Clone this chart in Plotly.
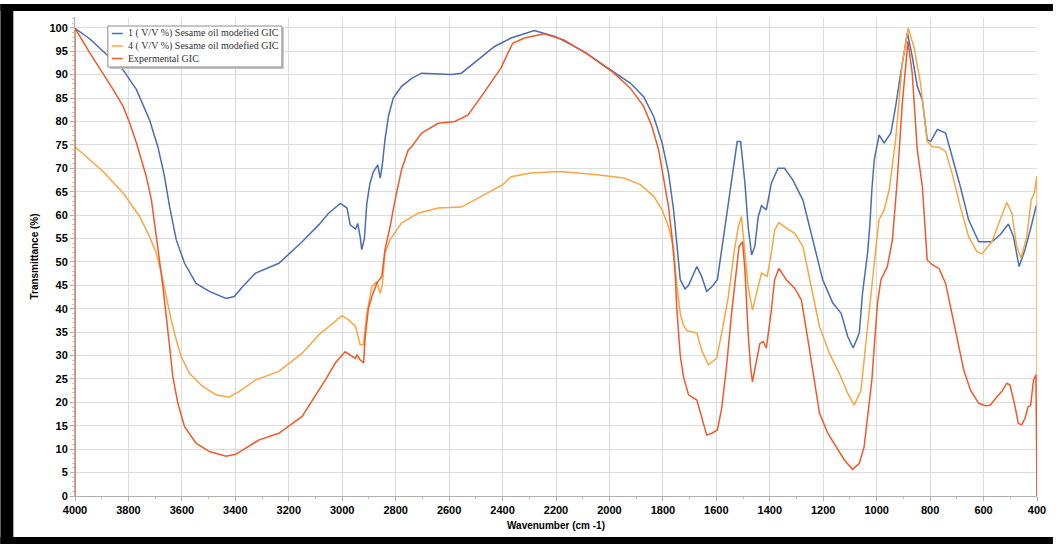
import plotly.graph_objects as go

# ---------------- data ----------------
names = ["1 ( V/V %) Sesame oil modefied GIC",
         "4 ( V/V %) Sesame oil modefied GIC",
         "Expermental GIC"]

wn_blue = [4000, 3944, 3895, 3820, 3770, 3721, 3690, 3665, 3646, 3621, 3590, 3547, 3497, 3435, 3404,
           3373, 3324, 3237, 3150, 3088, 3051, 3007, 2982, 2970, 2950, 2942, 2933, 2927, 2917, 2908,
           2896, 2883, 2867, 2858, 2850, 2840, 2827, 2809, 2778, 2740, 2703, 2650, 2592, 2554, 2492,
           2430, 2368, 2281, 2201, 2095, 1996, 1922, 1872, 1834, 1803, 1779, 1760, 1748, 1735, 1717,
           1704, 1673, 1655, 1636, 1617, 1596, 1574, 1552, 1534, 1522, 1509, 1493, 1481, 1468, 1456,
           1443, 1431, 1413, 1394, 1369, 1345, 1314, 1276, 1239, 1202, 1164, 1133, 1108, 1088, 1065,
           1053, 1034, 1025, 1018, 1009, 991, 972, 947, 929, 910, 885, 867, 848, 829, 811,
           798, 773, 742, 718, 687, 656, 618, 569, 538, 507, 488, 467, 445, 422, 404, 400]
t_blue = [99.9, 97.6, 95.0, 91.0, 86.8, 80.3, 74.6, 68.2, 61.8, 54.7, 49.7, 45.4, 43.7, 42.2, 42.6,
          44.7, 47.6, 49.7, 54.3, 57.9, 60.4, 62.5, 61.5, 57.9, 57.0, 58.2, 55.4, 52.6, 55.0, 62.5,
          66.8, 69.3, 70.7, 67.9, 70.7, 76.1, 81.1, 85.0, 87.5, 89.2, 90.3, 90.1, 90.0, 90.3, 93.2,
          96.0, 97.8, 99.4, 98.1, 94.9, 91.0, 88.2, 85.3, 81.0, 75.4, 69.0, 61.1, 53.3, 46.2, 44.2,
          45.0, 49.0, 46.9, 43.7, 44.7, 46.2, 54.7, 63.2, 70.4, 75.7, 75.7, 66.8, 57.5, 51.5, 53.3,
          59.7, 62.0, 61.1, 66.8, 70.0, 70.0, 67.5, 63.2, 54.7, 46.2, 41.2, 39.0, 34.0, 31.6, 34.8,
          43.3, 51.9, 58.3, 65.4, 71.8, 77.1, 75.4, 77.5, 83.2, 90.3, 98.9, 93.9, 87.5, 84.6, 76.1,
          75.7, 78.3, 77.5, 72.5, 66.1, 59.0, 54.3, 54.3, 55.8, 58.1, 55.4, 49.0, 52.6, 57.5, 61.8, 62.0]

wn_orange = [4000, 3895, 3820, 3758, 3721, 3696, 3677, 3659, 3640, 3621, 3603, 3572, 3522, 3472, 3423,
             3386, 3324, 3237, 3150, 3088, 3051, 3001, 2976, 2950, 2933, 2921, 2908, 2889, 2871, 2858,
             2850, 2840, 2821, 2778, 2716, 2641, 2554, 2467, 2399, 2368, 2294, 2182, 2046, 1946, 1884,
             1834, 1803, 1779, 1760, 1748, 1735, 1723, 1710, 1673, 1655, 1630, 1599, 1580, 1555, 1534,
             1518, 1506, 1496, 1481, 1465, 1450, 1431, 1410, 1394, 1382, 1366, 1338, 1307, 1276, 1245,
             1214, 1177, 1140, 1108, 1084, 1059, 1040, 1025, 1009, 991, 972, 953, 929, 904, 882,
             861, 836, 811, 792, 767, 742, 718, 687, 656, 625, 606, 569, 538, 513, 494,
             476, 460, 438, 422, 410, 401, 400, 400]
t_orange = [74.6, 69.3, 64.7, 59.7, 55.4, 51.9, 47.6, 42.6, 37.6, 33.3, 29.8, 26.2, 23.4, 21.6, 21.1,
            22.3, 24.8, 26.6, 30.5, 34.4, 36.2, 38.5, 37.6, 36.2, 32.3, 32.3, 39.0, 44.7, 45.8, 43.3,
            45.1, 51.9, 54.7, 58.3, 60.4, 61.5, 61.7, 64.3, 66.5, 68.2, 69.0, 69.3, 68.6, 67.9, 66.5,
            64.0, 61.1, 57.5, 53.0, 45.0, 39.0, 36.5, 35.3, 34.8, 31.2, 28.0, 29.4, 34.8, 42.6, 51.9,
            57.5, 59.7, 54.0, 44.7, 39.7, 43.3, 47.6, 46.9, 51.9, 56.8, 58.4, 57.2, 56.1, 53.3, 44.7,
            36.2, 30.5, 26.2, 21.9, 19.4, 22.5, 33.3, 41.9, 49.7, 59.0, 61.1, 65.4, 76.1, 92.5, 99.9,
            96.0, 88.2, 75.7, 74.6, 74.5, 73.6, 69.0, 61.8, 55.4, 52.2, 51.7, 54.3, 59.0, 62.7, 60.4,
            53.3, 50.8, 55.4, 63.2, 64.7, 68.2, 68.2, 0.0]

wn_red = [4000, 4000, 3944, 3895, 3857, 3820, 3795, 3770, 3752, 3733, 3714, 3696, 3684, 3671, 3659,
          3646, 3634, 3615, 3590, 3547, 3497, 3435, 3398, 3361, 3311, 3237, 3150, 3063, 3026, 2989,
          2970, 2951, 2945, 2933, 2920, 2914, 2902, 2889, 2871, 2852, 2840, 2821, 2803, 2778, 2753,
          2740, 2703, 2641, 2579, 2529, 2480, 2430, 2405, 2380, 2362, 2318, 2244, 2170, 2070, 1983,
          1922, 1872, 1841, 1816, 1797, 1779, 1766, 1754, 1748, 1741, 1735, 1723, 1704, 1673, 1655,
          1636, 1617, 1596, 1580, 1562, 1543, 1527, 1515, 1502, 1493, 1481, 1472, 1465, 1450, 1437,
          1425, 1413, 1394, 1382, 1366, 1338, 1307, 1282, 1257, 1233, 1214, 1183, 1152, 1121, 1090,
          1065, 1047, 1034, 1018, 1009, 997, 984, 960, 941, 923, 904, 883, 867, 848, 829,
          811, 792, 767, 742, 718, 693, 674, 649, 618, 594, 575, 550, 532, 513, 501,
          482, 470, 457, 445, 433, 424, 413, 404, 400]
t_red = [0.0, 99.9, 94.6, 90.3, 86.8, 83.2, 79.6, 75.4, 71.8, 68.2, 63.2, 56.1, 50.4, 44.7, 39.0,
         31.9, 25.5, 19.8, 14.8, 11.3, 9.5, 8.5, 8.9, 10.2, 12.0, 13.4, 17.0, 24.8, 28.4, 30.8,
         30.1, 29.4, 30.1, 29.1, 28.4, 34.0, 40.1, 42.6, 45.4, 46.9, 52.6, 57.5, 63.0, 69.7, 73.9,
         74.6, 77.5, 79.6, 80.0, 81.4, 85.3, 89.6, 91.5, 94.6, 96.7, 97.8, 98.7, 97.4, 93.9, 90.3,
         87.1, 83.2, 78.9, 73.9, 67.5, 61.8, 55.4, 47.6, 40.0, 34.0, 30.0, 25.5, 21.6, 20.5, 17.0,
         13.0, 13.4, 14.1, 18.7, 27.6, 39.0, 47.6, 53.3, 54.3, 48.3, 34.8, 27.6, 24.4, 28.4, 32.6,
         33.0, 31.6, 39.7, 46.2, 48.6, 46.2, 44.4, 41.9, 33.3, 24.8, 17.7, 13.4, 10.5, 7.7, 5.7,
         7.0, 10.5, 17.0, 24.8, 31.9, 41.2, 46.2, 49.0, 54.7, 67.5, 83.9, 97.1, 90.3, 73.9, 66.1,
         50.4, 49.4, 48.6, 45.4, 39.0, 31.9, 26.9, 22.6, 19.8, 19.3, 19.4, 21.2, 22.3, 24.1, 23.7,
         19.1, 15.5, 15.2, 16.6, 19.1, 19.3, 24.8, 25.9, 0.0]

x_ticks = list(range(4000, 399, -200))
y_ticks = list(range(0, 101, 5))

colors = ["#4a6db3", "#f8a642", "#f05a28"]

# ---------------- figure ----------------
fig = go.Figure()
for wn, t, name, col in zip([wn_blue, wn_orange, wn_red], [t_blue, t_orange, t_red], names, colors):
    fig.add_trace(go.Scatter(x=wn, y=t, mode="lines", name=name,
                             line=dict(color=col, width=1.5), showlegend=False))

L, R, T, B = 75, 1042, 17, 496   # plot-area edges in pixels
tickfont = dict(family="Liberation Sans, Arial, sans-serif", size=11, color="black", weight="bold")
fig.update_layout(
    width=1058, height=544, autosize=False,
    margin=dict(l=L, r=1058 - R, t=T, b=544 - B, pad=0),
    paper_bgcolor="white", plot_bgcolor="white",
    showlegend=False,
    xaxis=dict(range=[4000, 400], tickmode="array", tickvals=x_ticks,
               ticktext=[str(v) for v in x_ticks], tickfont=tickfont,
               showgrid=True, gridcolor="#dcdcdc", gridwidth=1,
               zeroline=False, showline=True, linecolor="#b0b0b0",
               ticks="outside", ticklen=4, tickcolor="#b0b0b0",
               minor=dict(dtick=100, ticks="outside", ticklen=2, tickcolor="#c0c0c0", showgrid=False),
               title=dict(text="Wavenumber (cm -1)", standoff=6,
                          font=dict(family="Liberation Sans, Arial, sans-serif", size=10,
                                    color="black", weight="bold"))),
    yaxis=dict(range=[0, 102.3], tickmode="array", tickvals=y_ticks,
               ticktext=[str(v) for v in y_ticks], tickfont=tickfont,
               showgrid=True, gridcolor="#dcdcdc", gridwidth=1,
               zeroline=False, showline=True, linecolor="#b0b0b0",
               ticks="outside", ticklen=4, tickcolor="#b0b0b0",
               minor=dict(dtick=1, ticks="outside", ticklen=2, tickcolor="#c8c8c8", showgrid=False),
               title=dict(text="Transmittance (%)", standoff=8,
                          font=dict(family="Liberation Sans, Arial, sans-serif", size=10,
                                    color="black", weight="bold"))),
)

pw, ph = float(R - L), float(B - T)
def px(x):
    return (x - L) / pw
def py(y):
    return (B - y) / ph

# compact legend box like the reference
fig.add_shape(type="rect", xref="paper", yref="paper",
              x0=px(110), x1=px(285), y0=py(69), y1=py(28),
              fillcolor="#c4c4c4", line=dict(width=0), layer="above")
fig.add_shape(type="rect", xref="paper", yref="paper",
              x0=px(108), x1=px(283), y0=py(67), y1=py(26),
              fillcolor="white", line=dict(color="#8c8c8c", width=1), layer="above")
row_y = [33.5, 46, 58.5]
for name, col, yy in zip(names, colors, row_y):
    fig.add_shape(type="line", xref="paper", yref="paper",
                  x0=px(112), x1=px(123), y0=py(yy), y1=py(yy),
                  line=dict(color=col, width=1.5), layer="above")
    fig.add_annotation(xref="paper", yref="paper", x=px(126), y=py(yy),
                       xanchor="left", yanchor="middle", showarrow=False, text=name,
                       font=dict(family="Liberation Serif, Times New Roman, serif", size=10,
                                 color="#333333"))

# black picture frame around the screenshot (left, top, bottom)
for (x0, y0, x1, y1) in [(0, 4, 13, 544), (0, 4, 1058, 11), (0, 537, 1058, 544)]:
    fig.add_shape(type="rect", xref="paper", yref="paper",
                  x0=px(x0), x1=px(x1), y0=py(y1), y1=py(y0),
                  fillcolor="black", line=dict(width=0), layer="above")

fig.write_html("out.html", config={"displayModeBar": False},
               post_script="document.body.style.margin='0';document.body.style.overflow='hidden';")
